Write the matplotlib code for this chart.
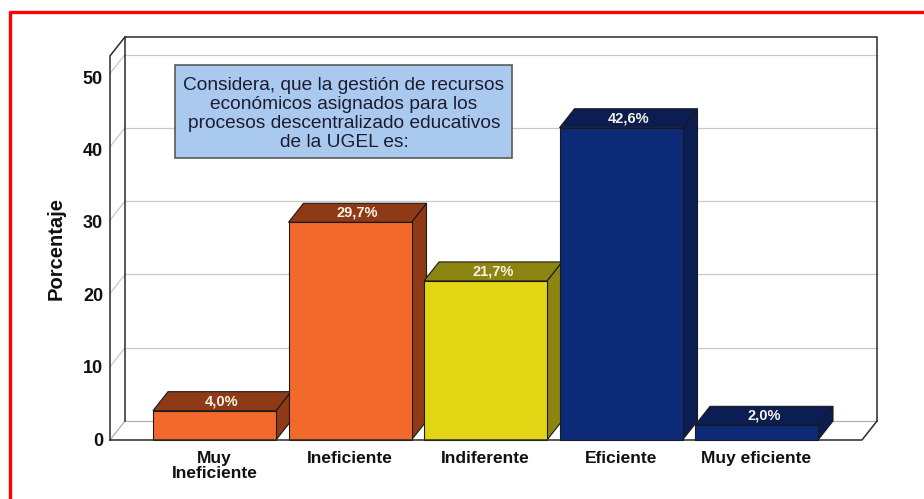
import numpy as np
import matplotlib
matplotlib.use("Agg")
import matplotlib.pyplot as plt
from matplotlib.patches import Polygon, Rectangle

plt.rcParams['font.family'] = ['Liberation Sans', 'DejaVu Sans']

# data
categories = ["Muy\nIneficiente", "Ineficiente", "Indiferente", "Eficiente", "Muy eficiente"]
values     = [4.0, 29.7, 21.7, 42.6, 2.0]
labels     = ["4,0%", "29,7%", "21,7%", "42,6%", "2,0%"]
yticks     = [0, 10, 20, 30, 40, 50]
title_box  = ("Considera, que la gestión de recursos\neconómicos asignados para los\n"
              "procesos descentralizado educativos\nde la UGEL es:")

# colours (front, top/side)
FRONT = ["#F26A2B", "#F26A2B", "#E2D514", "#0C2A78", "#0C2A78"]
SHADE = ["#8E3A16", "#8E3A16", "#8C8511", "#0B1D52", "#0B1D52"]

# geometry: px per unit
W, H = 924, 499
PXX, PXY = 135.5, 7.33
X0PX, Y0PX = 214.5, 440          # centre of first bar, zero line (from top)
DX, DY = 15 / PXX, 19 / PXY      # depth offset
HW = 61.5 / PXX                  # bar half width
XL, XR = (110 - X0PX) / PXX, (862 - X0PX) / PXX
YTOP = 52.4

fig = plt.figure(figsize=(W / 100, H / 100), dpi=100)
ax = fig.add_axes([0, 0, 1, 1])
ax.set_xlim(-X0PX / PXX, (W - X0PX) / PXX)
ax.set_ylim(-(H - Y0PX) / PXY, Y0PX / PXY)
ax.axis("off")

dark = "#2a2a2a"
grid = "#c8c8c8"

# back wall grid
for t in yticks[1:]:
    ax.plot([XL + DX, XR + DX], [t + DY, t + DY], color=grid, lw=0.9, zorder=1)
    ax.plot([XL, XL + DX], [t, t + DY], color=grid, lw=0.9, zorder=1)
# floor
ax.plot([XL + DX, XR + DX], [DY, DY], color="#b0b0b0", lw=0.9, zorder=1)
ax.plot([XL, XL + DX], [0, DY], color="#b0b0b0", lw=0.9, zorder=1)
# frame
ax.plot([XL + DX, XL + DX, XR + DX, XR + DX], [DY, YTOP + DY, YTOP + DY, DY],
        color=dark, lw=1.1, zorder=1)
ax.plot([XL, XL, XL + DX], [0, YTOP, YTOP + DY], color=dark, lw=1.1, zorder=1)
ax.plot([XL, XR, XR + DX], [0, 0, DY], color=dark, lw=1.1, zorder=5)

# bars
for i, (v, fc, sc, lab) in enumerate(zip(values, FRONT, SHADE, labels)):
    x = i
    z = 2 + i
    side = [(x + HW, 0), (x + HW + DX, DY), (x + HW + DX, v + DY), (x + HW, v)]
    top = [(x - HW, v), (x - HW + DX, v + DY), (x + HW + DX, v + DY), (x + HW, v)]
    front = [(x - HW, 0), (x - HW, v), (x + HW, v), (x + HW, 0)]
    for pts, c in ((side, sc), (top, sc), (front, fc)):
        ax.add_patch(Polygon(pts, closed=True, facecolor=c, edgecolor="#1a1a1a",
                             lw=0.8, zorder=z))
    ax.text(x + DX / 2, v + DY / 2, lab, color="#f7f3e6", fontsize=10.5,
            fontweight="bold", ha="center", va="center", zorder=z + 0.5)

# y tick labels and axis title
for t in yticks:
    ax.annotate(str(t), (XL, t), xytext=(-5, -3 * t / 50 - 1), textcoords="offset points",
                ha="right", va="center", fontsize=13, fontweight="bold", color="#111111")
ax.text(56 / W, (H - 249) / H, "Porcentaje", transform=ax.transAxes, rotation=90,
        ha="center", va="center", fontsize=14.5, fontweight="bold", color="#111111")

# category labels
for i, c in enumerate(categories):
    ax.annotate(c, (i, 0), xytext=(0, -8), textcoords="offset points", ha="center",
                va="top", fontsize=12.5, fontweight="bold", color="#111111", linespacing=1.0)

# legend-like title box
ax.add_patch(Rectangle((175 / W, (H - 158) / H), 337 / W, 93 / H, transform=ax.transAxes,
                       facecolor="#a9c9ef", edgecolor="#5a5a5a", lw=1.2, zorder=8))
ax.text(344 / W, (H - 114) / H, title_box, transform=ax.transAxes, ha="center",
        va="center", fontsize=13.8, color="#1c1c30", linespacing=1.13, zorder=9)

# red border
ax.plot([10 / W, 10 / W, 1], [0, (H - 11.5) / H, (H - 11.5) / H], transform=ax.transAxes,
        color="#ff0000", lw=2.4, clip_on=False, zorder=10)

fig.savefig("out.png", dpi=100)
